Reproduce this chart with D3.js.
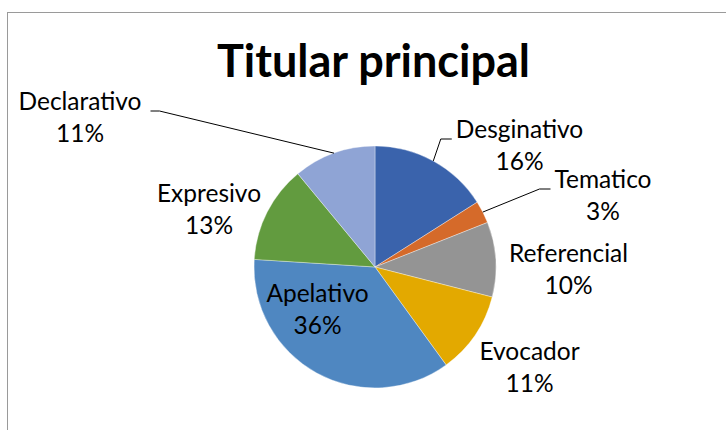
<!DOCTYPE html>
<html><head><meta charset="utf-8">
<script src="https://cdn.jsdelivr.net/npm/d3@7"></script>
<style>html,body{margin:0;padding:0;background:#fff;}svg{display:block;}</style>
</head><body>
<svg id="chart" width="726" height="430"></svg>
<script>
// ---- data ----
const title = "Titular principal";
const categories = ["Desginativo", "Tematico", "Referencial", "Evocador", "Apelativo", "Expresivo", "Declarativo"];
const values = [16, 3, 10, 11, 36, 13, 11];
const colors = ["#3A63AC", "#D56A2A", "#949494", "#E3A900", "#4F87C1", "#629B3F", "#8FA4D5"];

// ---- layout (label placement relative to pie centre, style only) ----
const labelLayout = [
  {dx: 144.5, dy: -129, leader: "left"},
  {dx: 228,   dy: -79,  leader: "left"},
  {dx: 193.5, dy: -5,   leader: null},
  {dx: 154.5, dy: 93,   leader: null},
  {dx: -57.5, dy: 35,   leader: null},
  {dx: -166,  dy: -65,  leader: null},
  {dx: -295,  dy: -157, leader: "right"}
];

const W = 726, H = 430;
const cx = 375, cy = 267, R = 121;
const FONT = "Lato, 'Carlito', Calibri, sans-serif";

const svg = d3.select("#chart");
svg.append("rect").attr("x", 7.5).attr("y", 12.5).attr("width", 740).attr("height", 440)
  .attr("fill", "#fff").attr("stroke", "#9a9a9a").attr("stroke-width", 1);

// fit a font size so that a text measures a target width
function fitSize(text, weight, target) {
  const t = svg.append("text").attr("font-family", FONT).attr("font-weight", weight)
    .attr("font-size", 100).text(text);
  const w = t.node().getComputedTextLength();
  t.remove();
  return 100 * target / w;
}
const titleSize = fitSize(title, "bold", 313);
const labelSize = fitSize("Referencial", "normal", 119);

svg.append("text").attr("x", 373.5).attr("y", 77).attr("text-anchor", "middle")
  .attr("font-family", FONT).attr("font-weight", "bold").attr("font-size", titleSize)
  .attr("fill", "#000").text(title);

const data = categories.map((c, i) => ({name: c, value: values[i], color: colors[i], lay: labelLayout[i]}));
const pie = d3.pie().value(d => d.value).sort(null);
const arcs = pie(data);
const arc = d3.arc().innerRadius(0).outerRadius(R);

const g = svg.append("g").attr("transform", `translate(${cx},${cy})`);
g.selectAll("path").data(arcs).join("path")
  .attr("d", arc).attr("fill", d => d.data.color)
  .attr("stroke", "#fff").attr("stroke-width", 0.6).attr("stroke-opacity", 0.6);

const total = d3.sum(values);
const lg = g.append("g");
arcs.forEach(a => {
  const L = a.data.lay;
  const pct = Math.round(a.data.value / total * 100) + "%";
  const t = lg.append("text").attr("text-anchor", "middle")
    .attr("font-family", FONT).attr("font-size", labelSize).attr("fill", "#000");
  t.append("tspan").attr("x", L.dx).attr("y", L.dy).text(a.data.name);
  t.append("tspan").attr("x", L.dx).attr("y", L.dy + 32).text(pct);
  if (L.leader) {
    const w = t.select("tspan").node().getComputedTextLength();
    const mid = (a.startAngle + a.endAngle) / 2;
    const px = Math.sin(mid) * R, py = -Math.cos(mid) * R;
    let x0, x1;
    if (L.leader === "left") { x0 = L.dx - w / 2 - 4; x1 = x0 - 11; }
    else { x0 = L.dx + w / 2 + 9; x1 = x0 + 9; }
    const ly = L.dy + 1;
    lg.append("polyline").attr("points", `${x0},${ly} ${x1},${ly} ${px},${py}`)
      .attr("fill", "none").attr("stroke", "#000").attr("stroke-width", 1);
  }
});
</script>
</body></html>
